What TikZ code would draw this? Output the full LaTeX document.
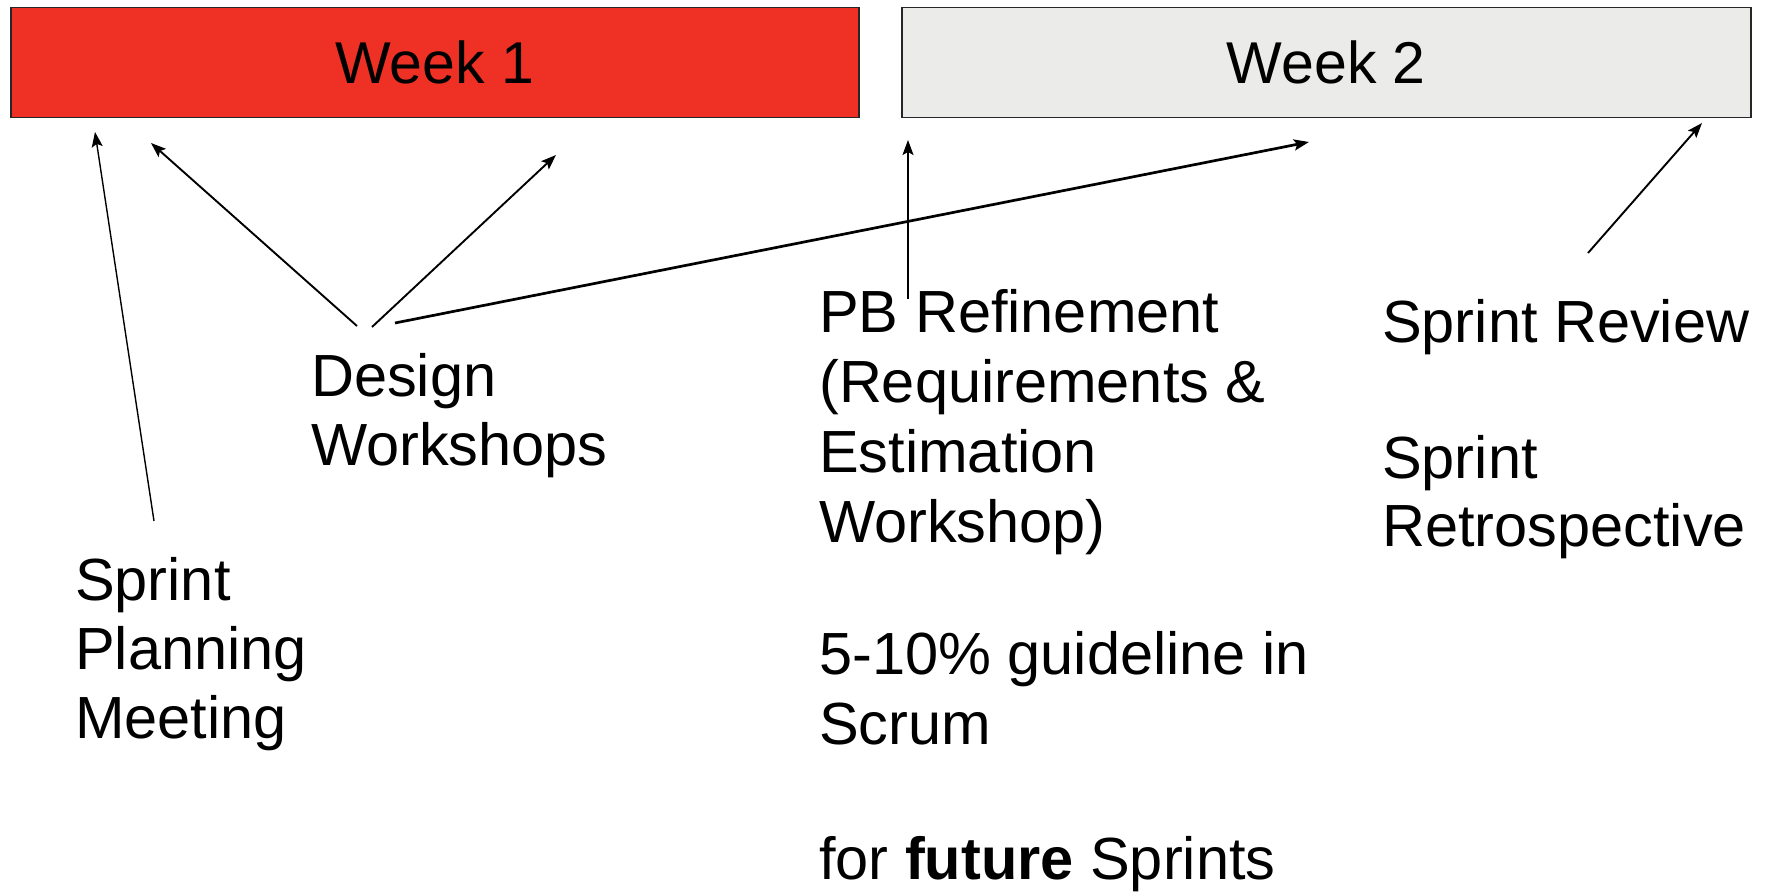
\documentclass[tikz,border=0pt]{standalone}
\usepackage{fontspec}
\setmainfont{Liberation Sans}
\usetikzlibrary{arrows.meta}
\definecolor{weekred}{RGB}{238,49,36}
\definecolor{weekgray}{RGB}{235,235,233}
\tikzset{
  weekbox/.style={draw=black!85, line width=1.5pt, minimum width=848pt, minimum height=110pt, inner sep=0pt, font=\fontsize{59}{69}\selectfont},
  lbl/.style={anchor=base west, inner sep=0pt, font=\fontsize{59.5}{69}\selectfont},
  arr/.style={line width=1.9pt, -{Stealth[length=15pt,width=11pt,inset=3pt]}},
  thinarr/.style={arr, line width=1.4pt},
  thickarr/.style={arr, line width=2.7pt}
}
\newcommand{\blk}[1]{\parbox[t]{900pt}{\fontsize{59.5}{69}\selectfont #1}}
\begin{document}
\begin{tikzpicture}[x=1pt,y=-1pt]
\useasboundingbox (0,0) rectangle (1770,893);
\node[weekbox, fill=weekred, anchor=north west] (w1) at (10,7) {Week 1};
\node[weekbox, fill=weekgray, minimum width=849pt, anchor=north west] (w2) at (901,7) {Week 2};

\node[lbl] (spm) at (75,600) {\blk{Sprint\\Planning\\Meeting}};
\node[lbl] (dw) at (311,396) {\blk{Design\\Workshops}};
\node[lbl] (pb) at (819,333) {\blk{\baselineskip=70pt PB Refinement\\(Requirements \&\\Estimation\\Workshop)\\[62pt]5-10\% guideline in\\Scrum\\[65pt]for \textbf{future} Sprints}};
\node[lbl] (sr) at (1382,343) {\blk{Sprint Review\\[66pt]Sprint\\Retrospective}};

\coordinate (t1) at (154,521);  \coordinate (h1) at (95,132);
\coordinate (t2) at (357,326);  \coordinate (h2) at (151,143);
\coordinate (t3) at (372,327);  \coordinate (h3) at (556,155);
\coordinate (t4) at (395,323);  \coordinate (h4) at (1309,142);
\coordinate (t5) at (908,299);  \coordinate (h5) at (908,140);
\coordinate (t6) at (1588,253); \coordinate (h6) at (1702,123);

\draw[thinarr] (t1) -- (h1);
\draw[arr] (t2) -- (h2);
\draw[arr] (t3) -- (h3);
\draw[thickarr] (t4) -- (h4);
\draw[thinarr] (t5) -- (h5);
\draw[arr] (t6) -- (h6);
\end{tikzpicture}
\end{document}
